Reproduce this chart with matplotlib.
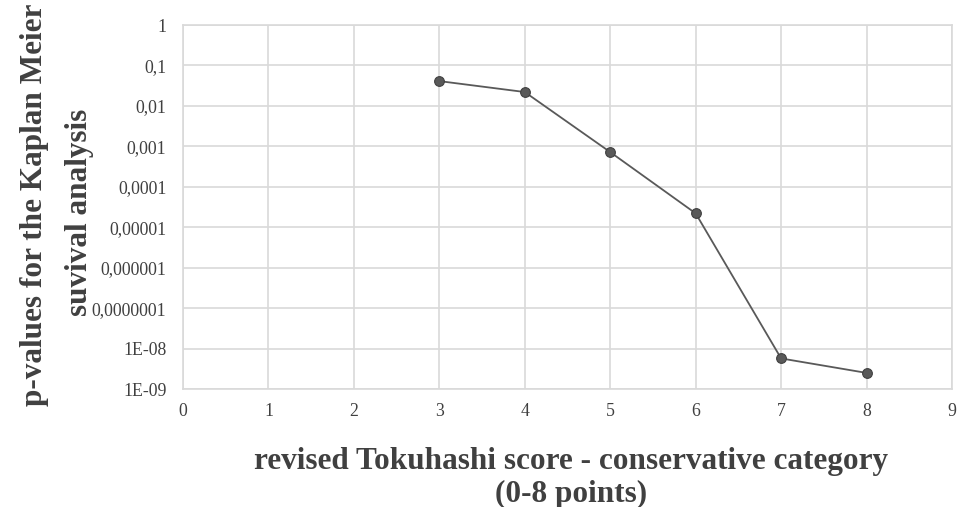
import matplotlib
matplotlib.use("Agg")
import matplotlib.pyplot as plt
from matplotlib.ticker import FixedLocator, NullLocator

scores = [3, 4, 5, 6, 7, 8]
p_values = [0.041, 0.022, 7.2e-4, 2.2e-5, 5.7e-9, 2.5e-9]

y_ticks = [1, 0.1, 0.01, 0.001, 1e-4, 1e-5, 1e-6, 1e-7, 1e-8, 1e-9]
y_tick_labels = ["1", "0,1", "0,01", "0,001", "0,0001", "0,00001", "0,000001",
                 "0,0000001", "1E-08", "1E-09"]
x_ticks = list(range(0, 10))

plt.rcParams['font.family'] = ['Liberation Serif', 'DejaVu Serif']

fig = plt.figure(figsize=(9.65, 5.07), dpi=100)
ax = fig.add_axes([183/965, 1-389/507, (952-183)/965, (389-25)/507])

ax.set_yscale('log')
ax.set_ylim(1e-9, 1)
ax.set_xlim(0, 9)
ax.yaxis.set_major_locator(FixedLocator(y_ticks))
ax.yaxis.set_minor_locator(NullLocator())
ax.set_yticklabels(y_tick_labels)
ax.set_xticks(x_ticks)
ax.tick_params(axis='both', length=0, labelsize=12.8, colors='#404040')
ax.tick_params(axis='y', pad=12)
ax.tick_params(axis='x', pad=10)

ax.grid(True, color='#d9d9d9', linewidth=1.2)
ax.set_axisbelow(True)
for s in ax.spines.values():
    s.set_color('#d9d9d9')
    s.set_linewidth(1.2)

ax.plot(scores, p_values, color='#595959', linewidth=1.3, marker='o',
        markersize=7, markerfacecolor='#595959', markeredgecolor='#404040',
        markeredgewidth=0.8, zorder=3)

fs = 22.5
fig.text(571/965, 1-462/507, "revised Tokuhashi score - conservative category",
         ha='center', va='center', fontsize=fs, fontweight='bold', color='#404040')
fig.text(571/965, 1-494/507, "(0-8 points)",
         ha='center', va='center', fontsize=fs, fontweight='bold', color='#404040')
fig.text(35/965, 1-205/507, "p-values for the Kaplan Meier",
         ha='center', va='center', rotation=90, fontsize=fs, fontweight='bold', color='#404040')
fig.text(80/965, 1-212/507, "suvival analysis",
         ha='center', va='center', rotation=90, fontsize=fs, fontweight='bold', color='#404040')

fig.savefig("out.png", dpi=100)
